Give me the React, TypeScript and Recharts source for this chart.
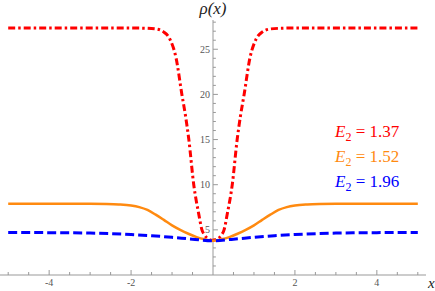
import React from 'react';
import { LineChart, Line, XAxis, YAxis, ReferenceLine, Legend } from 'recharts';

// x axis ticks: minor every 0.5, labels on the majors
const xTicks = [-5, -4.5, -4, -3.5, -3, -2.5, -2, -1.5, -1, -0.5, 0.5, 1, 1.5, 2, 2.5, 3, 3.5, 4, 4.5, 5];
const xMajor = [-4, -2, 2, 4];
const yMajor = [5, 10, 15, 20, 25];
const yMinor = [1, 2, 3, 4, 6, 7, 8, 9, 11, 12, 13, 14, 16, 17, 18, 19, 21, 22, 23, 24, 26, 27, 28];

// E2 = 1.37
const redX = [-5, -3, -2, -1.7, -1.4, -1.2, -1.05, -0.9, -0.76, -0.67, -0.59, -0.47, -0.35, -0.27, -0.2, -0.1, 0, 0.1, 0.2, 0.27, 0.35, 0.47, 0.59, 0.67, 0.76, 0.9, 1.05, 1.2, 1.4, 1.7, 2, 3, 5];
const redY = [27.35, 27.35, 27.35, 27.33, 27.25, 26.9, 26.1, 24, 20, 17.6, 15, 10, 6.8, 5.0, 4.4, 3.95, 3.85, 3.95, 4.4, 5.0, 6.8, 10, 15, 17.6, 20, 24, 26.1, 26.9, 27.25, 27.33, 27.35, 27.35, 27.35];

// E2 = 1.52
const orangeX = [-5, -4, -3, -2.6, -2.3, -2, -1.8, -1.6, -1.4, -1.2, -1, -0.8, -0.6, -0.4, -0.2, 0, 0.2, 0.4, 0.6, 0.8, 1, 1.2, 1.4, 1.6, 1.8, 2, 2.3, 2.6, 3, 4, 5];
const orangeY = [7.9, 7.9, 7.89, 7.87, 7.82, 7.7, 7.52, 7.2, 6.68, 6.1, 5.5, 5.0, 4.57, 4.2, 3.95, 3.8, 3.95, 4.2, 4.57, 5.0, 5.5, 6.1, 6.68, 7.2, 7.52, 7.7, 7.82, 7.87, 7.89, 7.9, 7.9];

// E2 = 1.96
const blueX = [-5, -4, -3, -2.5, -2, -1.5, -1, -0.5, 0, 0.5, 1, 1.5, 2, 2.5, 3, 4, 5];
const blueY = [4.71, 4.69, 4.64, 4.58, 4.48, 4.35, 4.17, 3.97, 3.8, 3.97, 4.17, 4.35, 4.48, 4.58, 4.64, 4.69, 4.71];

const toPoints = (xs: number[], ys: number[]) => xs.map((x, i) => ({ x, y: ys[i] }));
const redData = toPoints(redX, redY);
const orangeData = toPoints(orangeX, orangeY);
const blueData = toPoints(blueX, blueY);

const SERIF = '"Liberation Serif", "Times New Roman", Times, "DejaVu Serif", "Noto Serif", serif';
const AXIS = '#999';
const LABEL = '#555';

const XTick = (props: any) => {
  const { x, y, payload } = props;
  const major = xMajor.includes(payload.value);
  return (
    <g>
      <line x1={x} x2={x} y1={y} y2={y - (major ? 5 : 3)} stroke={AXIS} />
      {major && (
        <text x={x} y={y + 11} textAnchor="middle" fill={LABEL} fontSize={10} style={{ fontFamily: SERIF }}>
          {payload.value}
        </text>
      )}
    </g>
  );
};

const renderLegend = (props: any) => {
  const { payload } = props;
  return (
    <div style={{ fontFamily: SERIF, fontSize: 17, lineHeight: '23px' }}>
      {payload.map((p: any) => (
        <div key={p.value} style={{ color: p.color, whiteSpace: 'nowrap' }}>
          <span style={{ fontStyle: 'italic' }}>E</span>
          <span style={{ fontSize: 12, position: 'relative', top: 4 }}>2</span>
          <span> = {p.value}</span>
        </div>
      ))}
    </div>
  );
};

export default function App() {
  return (
    <div style={{ position: 'absolute', left: 0, top: 0, width: 435, height: 291, background: '#fff', fontFamily: SERIF }}>
      <LineChart width={435} height={291} margin={{ top: 20, right: 9, bottom: 0, left: 0 }} style={{ fontFamily: SERIF }}>
        <XAxis
          dataKey="x"
          type="number"
          domain={[-5.2, 5.2]}
          ticks={xTicks}
          interval={0}
          allowDataOverflow
          tickSize={0}
          tickMargin={0}
          tickLine={false}
          axisLine={{ stroke: AXIS }}
          tick={<XTick />}
          height={16}
          label={{ value: 'x', position: 'right', offset: 2, fill: '#222', fontSize: 15, fontStyle: 'italic', style: { fontFamily: SERIF } }}
        />
        <YAxis hide type="number" domain={[0, 28.24]} allowDataOverflow />

        {/* y axis drawn at x = 0 */}
        <ReferenceLine
          x={0}
          stroke={AXIS}
          label={{ value: 'ρ(x)', position: 'top', offset: 6, fill: '#222', fontSize: 17, fontStyle: 'italic', style: { fontFamily: SERIF } }}
        />
        {yMinor.map((v) => (
          <ReferenceLine key={'m' + v} segment={[{ x: 0, y: v }, { x: 0.07, y: v }]} stroke={AXIS} />
        ))}
        {yMajor.map((v) => (
          <ReferenceLine
            key={'M' + v}
            segment={[{ x: 0, y: v }, { x: 0.12, y: v }]}
            stroke={AXIS}
            label={{ value: String(v), position: 'left', offset: 3, fill: LABEL, fontSize: 10, style: { fontFamily: SERIF } }}
          />
        ))}

        <Line
          data={redData}
          dataKey="y"
          name="1.37"
          type="monotone"
          stroke="#ff0000"
          strokeWidth={3}
          strokeDasharray="7 3 2.5 3"
          dot={false}
          isAnimationActive={false}
        />
        <Line
          data={orangeData}
          dataKey="y"
          name="1.52"
          type="monotone"
          stroke="#ff8a10"
          strokeWidth={2.5}
          dot={false}
          isAnimationActive={false}
        />
        <Line
          data={blueData}
          dataKey="y"
          name="1.96"
          type="monotone"
          stroke="#0000ff"
          strokeWidth={3}
          strokeDasharray="9 4"
          dot={false}
          isAnimationActive={false}
        />

        <Legend
          verticalAlign="middle"
          align="center"
          layout="horizontal"
          wrapperStyle={{ left: 335, top: 120, width: 100 }}
          content={renderLegend}
        />
      </LineChart>
    </div>
  );
}
